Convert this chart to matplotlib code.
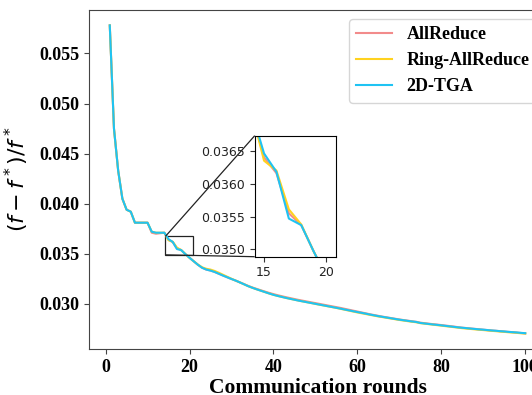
import numpy as np
import matplotlib
matplotlib.use('Agg')
import matplotlib.pyplot as plt
from mpl_toolkits.axes_grid1.inset_locator import mark_inset

plt.rcParams['font.family'] = 'serif'
plt.rcParams['font.serif'] = ['Liberation Serif', 'DejaVu Serif']
plt.rcParams['mathtext.fontset'] = 'dejavusans'

# relative suboptimality per communication round
rounds = list(range(1, 101))

tga = [0.0578, 0.0475, 0.0433, 0.0405, 0.0394, 0.0392, 0.0381, 0.0381, 0.0381, 0.0381,
       0.0372, 0.0371, 0.0371, 0.0371, 0.03646, 0.03618, 0.03547, 0.03537, 0.03497, 0.03460,
       0.03425, 0.03390, 0.03360, 0.03342, 0.03332, 0.03318, 0.03300, 0.03282, 0.03265, 0.03248,
       0.03232, 0.03214, 0.03195, 0.03176, 0.03160, 0.03145, 0.03131, 0.03117, 0.03103, 0.03090,
       0.03079, 0.03069, 0.03059, 0.03050, 0.03041, 0.03032, 0.03024, 0.03016, 0.03008, 0.03000,
       0.02992, 0.02984, 0.02976, 0.02968, 0.02960, 0.02952, 0.02943, 0.02935, 0.02926, 0.02918,
       0.02910, 0.02902, 0.02893, 0.02885, 0.02877, 0.02870, 0.02863, 0.02856, 0.02849, 0.02842,
       0.02836, 0.02830, 0.02824, 0.02819, 0.02809, 0.02804, 0.02799, 0.02794, 0.02790, 0.02785,
       0.02780, 0.02775, 0.02770, 0.02765, 0.02761, 0.02757, 0.02753, 0.02749, 0.02745, 0.02742,
       0.02738, 0.02734, 0.02731, 0.02727, 0.02724, 0.02720, 0.02717, 0.02714, 0.02710, 0.02707]

allreduce = [0.0578, 0.0475, 0.0433, 0.0405, 0.0394, 0.0392, 0.0381, 0.0381, 0.0381, 0.0381,
             0.0371, 0.0370, 0.03705, 0.0371, 0.03640, 0.03616, 0.03555, 0.03537, 0.03497, 0.03460,
             0.03425, 0.03390, 0.03360, 0.03342, 0.03332, 0.03318, 0.03300, 0.03282, 0.03265, 0.03248,
             0.03232, 0.03214, 0.03197, 0.03179, 0.03163, 0.03149, 0.03135, 0.03122, 0.03109, 0.03097,
             0.03086, 0.03076, 0.03066, 0.03057, 0.03048, 0.03039, 0.03031, 0.03023, 0.03015, 0.03007,
             0.02999, 0.02991, 0.02983, 0.02975, 0.02967, 0.02959, 0.02950, 0.02941, 0.02932, 0.02923,
             0.02914, 0.02905, 0.02896, 0.02888, 0.02880, 0.02872, 0.02865, 0.02858, 0.02851, 0.02844,
             0.02838, 0.02832, 0.02826, 0.02821, 0.02812, 0.02807, 0.02802, 0.02797, 0.02793, 0.02788,
             0.02783, 0.02778, 0.02773, 0.02767, 0.02762, 0.02758, 0.02754, 0.02750, 0.02746, 0.02742,
             0.02738, 0.02734, 0.02731, 0.02727, 0.02724, 0.02720, 0.02717, 0.02713, 0.02709, 0.02705]

ring = [0.0578, 0.0475, 0.0433, 0.0405, 0.0394, 0.0392, 0.0381, 0.0381, 0.0381, 0.0381,
        0.0372, 0.0371, 0.0371, 0.0371, 0.03635, 0.03620, 0.03561, 0.03538, 0.03497, 0.03460,
        0.03425, 0.03392, 0.03365, 0.03350, 0.03342, 0.03328, 0.03310, 0.03290, 0.03270, 0.03250,
        0.03232, 0.03214, 0.03195, 0.03176, 0.03160, 0.03145, 0.03131, 0.03117, 0.03103, 0.03090,
        0.03079, 0.03069, 0.03059, 0.03050, 0.03041, 0.03032, 0.03024, 0.03016, 0.03008, 0.02999,
        0.02991, 0.02983, 0.02975, 0.02967, 0.02959, 0.02950, 0.02941, 0.02932, 0.02923, 0.02914,
        0.02906, 0.02898, 0.02890, 0.02882, 0.02874, 0.02867, 0.02860, 0.02853, 0.02846, 0.02839,
        0.02833, 0.02827, 0.02821, 0.02816, 0.02807, 0.02802, 0.02797, 0.02792, 0.02787, 0.02782,
        0.02777, 0.02772, 0.02767, 0.02762, 0.02757, 0.02753, 0.02749, 0.02745, 0.02741, 0.02738,
        0.02734, 0.02730, 0.02727, 0.02723, 0.02720, 0.02716, 0.02713, 0.02710, 0.02706, 0.02703]

series = [('AllReduce', allreduce, '#f28b8b'),
          ('Ring-AllReduce', ring, '#ffd21f'),
          ('2D-TGA', tga, '#1fc3f3')]

fig = plt.figure(figsize=(5.32, 3.95), dpi=100)
# main axes runs a little past the right edge of the canvas
ax = fig.add_axes([0.1673, 0.1165, 0.859, 0.8582])
for name, vals, col in series:
    ax.plot(rounds, vals, color=col, lw=1.5, label=name)

ax.set_xticks([0, 20, 40, 60, 80, 100])
ax.set_yticks([0.030, 0.035, 0.040, 0.045, 0.050, 0.055])
ax.set_xlabel('Communication rounds', fontsize=15.5, fontweight='bold', labelpad=2)
ax.set_ylabel(r'$(f-f^*)/f^*$', fontsize=16, labelpad=6)
for lab in ax.get_xticklabels() + ax.get_yticklabels():
    lab.set_fontweight('bold')
    lab.set_fontsize(13)
for s in ax.spines.values():
    s.set_color('#444444')
ax.tick_params(colors='#444444', labelcolor='black')

leg = ax.legend(loc='upper right', prop={'weight': 'bold', 'size': 13})

# zoomed view of rounds 14-21
axins = fig.add_axes([0.4788, 0.3501, 0.1528, 0.3064])
for name, vals, col in series:
    axins.plot(rounds, vals, color=col, lw=1.5)
axins.set_xlim(14.25, 20.8)
axins.set_ylim(0.03489, 0.03673)
axins.set_xticks([15, 20])
axins.set_yticks([0.0350, 0.0355, 0.0360, 0.0365])
axins.set_yticklabels(['0.0350', '0.0355', '0.0360', '0.0365'])
for lab in axins.get_xticklabels() + axins.get_yticklabels():
    lab.set_family('DejaVu Sans')
    lab.set_fontsize(9)
axins.tick_params(colors='#333333', labelcolor='#222222')
mark_inset(ax, axins, loc1=2, loc2=3, fc='none', ec='#222222', lw=0.9)

fig.savefig('out.png', dpi=100)
